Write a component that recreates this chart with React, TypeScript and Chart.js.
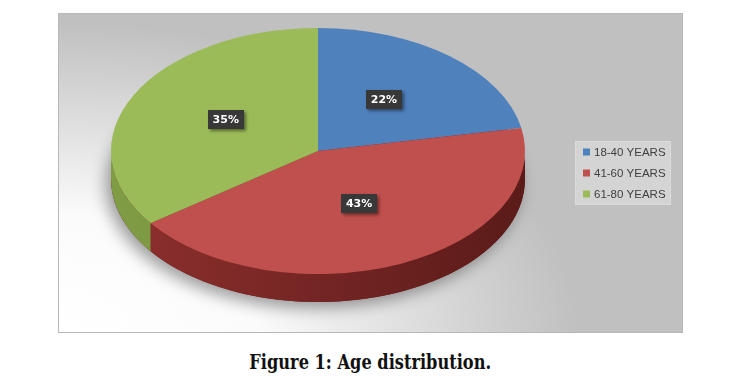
import React, { useEffect, useRef } from "react";
import { Chart, registerables } from "chart.js";

Chart.register(...registerables);

const categories = ["18-40 YEARS", "41-60 YEARS", "61-80 YEARS"];
const values = [22, 43, 35];
const valueLabels = ["22%", "43%", "35%"];
const topColors = ["#4f81bd", "#c0504d", "#9bbb59"];
const sideColors = [
  ["#3f6a9c", "#2c4d75"],
  ["#8e302e", "#5a1b19"],
  ["#809d45", "#66843a"],
];
const titleText = "Figure 1: Age distribution.";

const CANVAS_W = 625;
const CANVAS_H = 320;
const K = 123 / 207;
const DEPTH = 28;

const pie3d = {
  id: "pie3d",
  beforeDraw(chart: any) {
    const ctx = chart.ctx as CanvasRenderingContext2D;
    const w = chart.width;
    const h = chart.height;
    ctx.save();
    ctx.fillStyle = "#c0c0c0";
    ctx.fillRect(0, 0, w, h);
    ctx.save();
    ctx.translate(0, h);
    ctx.scale(520, 310);
    const g = ctx.createRadialGradient(0, 0, 0, 0, 0, 1);
    g.addColorStop(0, "#ffffff");
    g.addColorStop(0.38, "#fbfbfb");
    g.addColorStop(0.62, "#e4e4e4");
    g.addColorStop(0.86, "#cdcdcd");
    g.addColorStop(1, "#c0c0c0");
    ctx.fillStyle = g;
    ctx.fillRect(0, -1.1, 1.3, 1.2);
    ctx.restore();
    ctx.strokeStyle = "#b8b8b8";
    ctx.lineWidth = 1;
    ctx.strokeRect(0.5, 0.5, w - 1, h - 1);
    ctx.restore();
  },
  beforeDatasetsDraw(chart: any) {
    const ctx = chart.ctx as CanvasRenderingContext2D;
    const arcs = chart.getDatasetMeta(0).data as any[];
    const cx = arcs[0].x;
    const cy = arcs[0].y;
    const R = arcs[0].outerRadius;
    const Ry = R * K;
    ctx.save();
    ctx.shadowColor = "rgba(0,0,0,0.38)";
    ctx.shadowBlur = 16;
    ctx.shadowOffsetX = -5;
    ctx.shadowOffsetY = 6;
    ctx.fillStyle = "#6a2220";
    ctx.beginPath();
    ctx.ellipse(cx, cy + DEPTH, R, Ry, 0, 0, Math.PI * 2);
    ctx.fill();
    ctx.restore();
    arcs.forEach((arc, i) => {
      const s = Math.max(arc.startAngle, 0);
      const e = Math.min(arc.endAngle, Math.PI);
      if (e <= s) return;
      const g = ctx.createLinearGradient(cx - R, 0, cx + R, 0);
      g.addColorStop(0, sideColors[i][0]);
      g.addColorStop(1, sideColors[i][1]);
      ctx.save();
      ctx.fillStyle = g;
      ctx.beginPath();
      ctx.ellipse(cx, cy, R, Ry, 0, s, e, false);
      ctx.ellipse(cx, cy + DEPTH, R, Ry, 0, e, s, true);
      ctx.closePath();
      ctx.fill();
      ctx.restore();
    });
    ctx.save();
    ctx.translate(0, cy);
    ctx.scale(1, K);
    ctx.translate(0, -cy);
  },
  afterDatasetsDraw(chart: any) {
    const ctx = chart.ctx as CanvasRenderingContext2D;
    ctx.restore();
    const arcs = chart.getDatasetMeta(0).data as any[];
    const cy = arcs[0].y;
    ctx.save();
    ctx.font = 'bold 11px "DejaVu Sans"';
    arcs.forEach((arc, i) => {
      const p = arc.getCenterPoint();
      const x = p.x;
      const y = cy + (p.y - cy) * K - 4;
      const text = valueLabels[i];
      const w = ctx.measureText(text).width + 10;
      const h = 19;
      ctx.save();
      ctx.shadowColor = "rgba(0,0,0,0.45)";
      ctx.shadowBlur = 3;
      ctx.shadowOffsetX = 2;
      ctx.shadowOffsetY = 2;
      ctx.fillStyle = "#383838";
      ctx.fillRect(Math.round(x - w / 2), Math.round(y - h / 2), Math.round(w), h);
      ctx.restore();
      ctx.fillStyle = "#ffffff";
      ctx.textAlign = "center";
      ctx.textBaseline = "middle";
      ctx.fillText(text, x, y + 1);
    });
    ctx.restore();
  },
  afterDraw(chart: any) {
    const ctx = chart.ctx as CanvasRenderingContext2D;
    const ds = chart.data.datasets[0];
    ctx.save();
    ctx.fillStyle = "rgba(214,214,214,0.9)";
    ctx.fillRect(517, 128, 96, 64);
    ctx.strokeStyle = "#dcdcdc";
    ctx.lineWidth = 1;
    ctx.strokeRect(517.5, 128.5, 95, 63);
    ctx.font = '11.5px "Liberation Sans"';
    ctx.textBaseline = "middle";
    ctx.textAlign = "left";
    (chart.data.labels as string[]).forEach((lab, i) => {
      const y = 139 + i * 21;
      ctx.fillStyle = ds.backgroundColor[i];
      ctx.fillRect(525, y - 3.5, 7, 7);
      ctx.fillStyle = "#404040";
      ctx.fillText(lab, 536, y + 0.5);
    });
    ctx.restore();
  },
};

export default function App() {
  const ref = useRef<HTMLCanvasElement | null>(null);
  useEffect(() => {
    if (!ref.current) return;
    const chart = new Chart(ref.current, {
      type: "pie",
      data: {
        labels: categories,
        datasets: [
          {
            data: values,
            backgroundColor: topColors,
            borderWidth: 0,
            radius: 207,
            clip: false,
          } as any,
        ],
      },
      options: {
        responsive: false,
        animation: false,
        events: [],
        layout: { padding: { left: 0, right: 105, top: 0, bottom: 44 } },
        plugins: { legend: { display: false }, tooltip: { enabled: false } },
      },
      plugins: [pie3d],
    });
    return () => chart.destroy();
  }, []);
  return (
    <div style={{ position: "fixed", left: 0, top: 0, width: 740, height: 390, background: "#fff" }}>
      <canvas
        ref={ref}
        width={CANVAS_W}
        height={CANVAS_H}
        style={{ position: "absolute", left: 58, top: 13, width: CANVAS_W, height: CANVAS_H }}
      />
      <div
        style={{
          position: "absolute",
          left: 0,
          top: 350,
          width: 740,
          textAlign: "center",
        }}
      >
        <span
          style={{
            display: "inline-block",
            fontFamily: '"DejaVu Serif", serif',
            fontWeight: "bold",
            fontSize: 20,
            lineHeight: "24px",
            color: "#111",
            whiteSpace: "nowrap",
            transform: "scaleX(0.81)",
            transformOrigin: "center",
          }}
        >
          {titleText}
        </span>
      </div>
    </div>
  );
}
